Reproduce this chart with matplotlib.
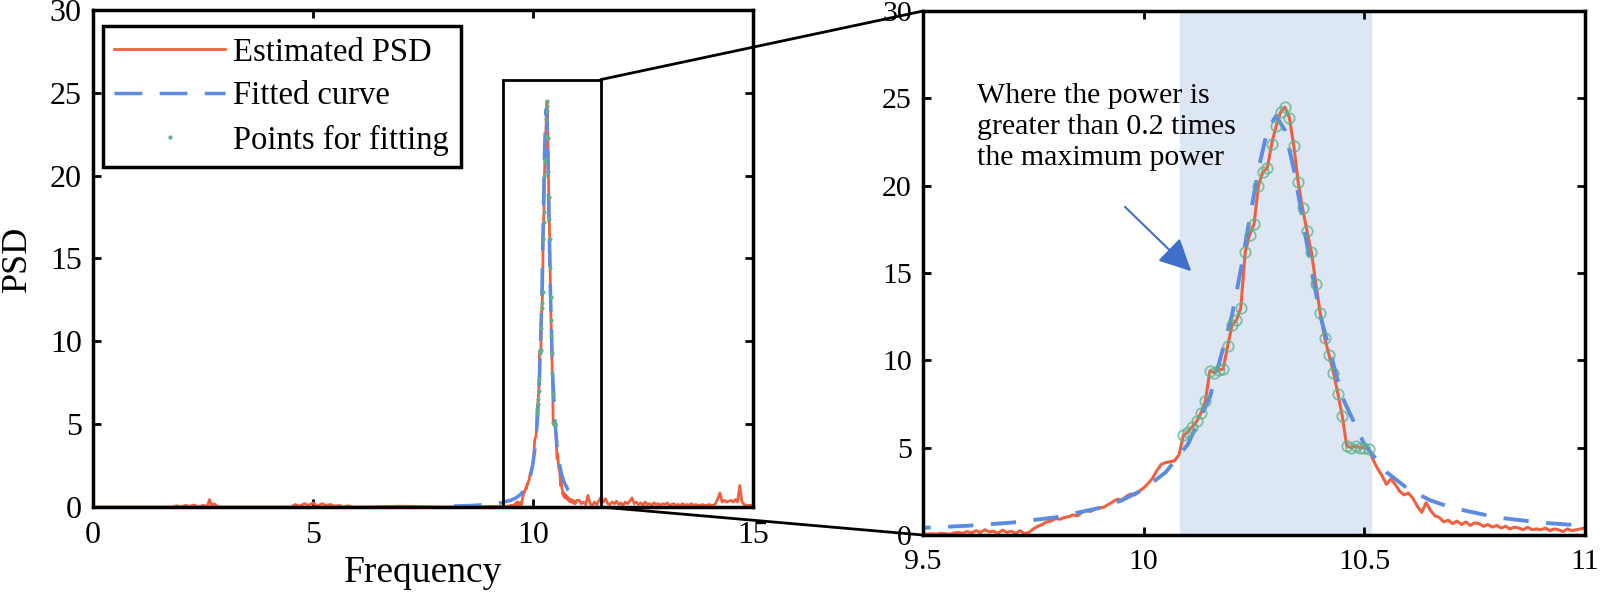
import numpy as np
import matplotlib
matplotlib.use("Agg")
import matplotlib.pyplot as plt
from matplotlib.patches import Rectangle, ConnectionPatch

plt.rcParams['font.family'] = ['Liberation Serif', 'DejaVu Serif']

# estimated PSD around the peak, 0.01 steps from 9.50 to 11.00
zoom_start = 9.5
zoom_step = 0.01
zoom_psd = [
    0.10, 0.05, 0.08, 0.05, 0.10, 0.08, 0.04, 0.12, 0.15, 0.10,   # 9.50
    0.20, 0.12, 0.25, 0.15, 0.30, 0.18, 0.22, 0.10, 0.28, 0.15,   # 9.60
    0.22, 0.10, 0.25, 0.08, 0.15, 0.35, 0.50, 0.60, 0.75, 0.80,   # 9.70
    0.95, 0.90, 1.00, 1.05, 1.15, 1.10, 1.30, 1.40, 1.35, 1.50,   # 9.80
    1.55, 1.60, 1.75, 1.90, 2.05, 2.00, 2.20, 2.35, 2.30, 2.50,   # 9.90
    2.70, 2.95, 3.25, 3.70, 4.05, 4.15, 4.20, 4.25, 4.60, 5.70,   # 10.00
    5.90, 6.20, 6.50, 7.00, 7.70, 9.40, 9.30, 9.45, 9.50, 10.80,  # 10.10
    12.00, 12.30, 13.00, 16.20, 17.20, 17.80, 20.00, 20.80, 21.00, 22.40,  # 10.20
    23.40, 24.20, 24.50, 23.90, 22.30, 20.20, 18.70, 17.40, 16.20, 14.40,  # 10.30
    12.70, 11.30, 10.30, 9.30, 8.10, 6.80, 5.10, 5.00, 5.10, 5.00,  # 10.40
    5.00, 4.95, 4.30, 3.80, 3.40, 2.90, 3.20, 2.90, 2.50, 2.30,   # 10.50
    2.40, 2.10, 1.65, 1.30, 1.85, 1.40, 1.10, 1.00, 0.75, 0.85,   # 10.60
    0.65, 0.80, 0.60, 0.75, 0.55, 0.70, 0.65, 0.50, 0.60, 0.45,   # 10.70
    0.55, 0.40, 0.50, 0.35, 0.45, 0.40, 0.30, 0.45, 0.30, 0.35,   # 10.80
    0.30, 0.40, 0.25, 0.35, 0.30, 0.20, 0.35, 0.25, 0.30, 0.35,   # 10.90
    0.40,                                                          # 11.00
]

# low-level PSD away from the peak
low_freq = [0.0, 1.8, 1.9, 2.0, 2.1, 2.2, 2.3, 2.4, 2.5, 2.6, 2.65, 2.7,
            2.75, 2.85, 3.0, 4.5, 4.6, 4.7, 4.8, 4.9, 5.0, 5.1, 5.2, 5.3,
            5.4, 5.5, 5.6, 5.7, 5.8, 5.9, 6.1, 7.0, 8.0, 9.0, 9.45]
low_psd = [0.0, 0.0, 0.08, 0.0, 0.1, 0.05, 0.12, 0.0, 0.1, 0.05, 0.45, 0.05,
           0.2, 0.0, 0.0, 0.0, 0.15, 0.05, 0.2, 0.1, 0.25, 0.05, 0.2, 0.1,
           0.15, 0.05, 0.1, 0.0, 0.08, 0.0, 0.0, 0.05, 0.0, 0.03, 0.05]

high_start = 11.05
high_step = 0.05
high_psd = [
    0.40, 0.20, 0.30, 0.15, 0.70, 0.20, 0.10, 0.30, 0.15, 0.40,
    0.60, 0.30, 0.50, 0.20, 0.15, 0.30, 0.20, 0.35, 0.15, 0.25,
    0.10, 0.30, 0.20, 0.35, 0.55, 0.20, 0.30, 0.15, 0.25, 0.10,
    0.30, 0.15, 0.20, 0.10, 0.25, 0.15, 0.20, 0.10, 0.20, 0.15,
    0.25, 0.10, 0.15, 0.20, 0.10, 0.15, 0.10, 0.20, 0.10, 0.15,
    0.10, 0.20, 0.10, 0.15, 0.10, 0.10, 0.15, 0.10, 0.10, 0.15,
    0.10, 0.10, 0.20, 0.50, 0.85, 0.30, 0.40, 0.30, 0.35, 0.40,
    0.30, 0.45, 0.30, 1.30, 0.30, 0.15, 0.10, 0.10, 0.10, 0.10,
]

# fitted curve
fit_freq = [8.2, 8.6, 9.0, 9.25, 9.5, 9.6, 9.7, 9.8, 9.9, 9.95, 10.0, 10.05,
            10.1, 10.15, 10.2, 10.22, 10.24, 10.26, 10.28, 10.3, 10.32, 10.34,
            10.36, 10.38, 10.4, 10.45, 10.5, 10.55, 10.6, 10.65, 10.7, 10.8,
            10.9, 11.0, 11.1]
fit_psd = [0.06, 0.09, 0.16, 0.24, 0.41, 0.53, 0.71, 1.01, 1.55, 1.98, 2.62, 3.60,
           5.19, 7.89, 12.58, 15.18, 18.09, 20.96, 23.16, 24.0, 23.16, 20.96,
           18.09, 15.18, 12.58, 7.89, 5.19, 3.60, 2.62, 1.98, 1.55, 1.01,
           0.71, 0.53, 0.41]

ratio = 0.2
band = [10.083, 10.515]
zoom_box = [9.31, 11.54, 25.8]

red = '#f1603e'
blue = '#5b8be2'
green = '#5fb08a'

zoom_freq = zoom_start + zoom_step * np.arange(len(zoom_psd))
high_freq = high_start + high_step * np.arange(len(high_psd))
zoom_psd = np.array(zoom_psd)
freq_all = np.concatenate([low_freq, zoom_freq, high_freq])
psd_all = np.concatenate([low_psd, zoom_psd, high_psd])
sel = zoom_psd >= ratio * zoom_psd.max()

fig = plt.figure(figsize=(16, 5.99), dpi=100)
ax1 = fig.add_axes([0.0581, 0.1536, 0.4125, 0.8297])
ax2 = fig.add_axes([0.5769, 0.1068, 0.41375, 0.8748])

ax1.plot(freq_all, psd_all, color=red, lw=2, label='Estimated PSD')
ax1.plot(fit_freq, fit_psd, color=blue, lw=2.5, dashes=(8, 5), label='Fitted curve')
ax1.plot(zoom_freq[sel], zoom_psd[sel], '.', color=green, ms=4, label='Points for fitting')
ax1.set_xlim(0, 15)
ax1.set_ylim(0, 30)
ax1.set_xticks([0, 5, 10, 15])
ax1.set_yticks([0, 5, 10, 15, 20, 25, 30])
ax1.set_xlabel('Frequency', fontsize=27, labelpad=4)
ax1.set_ylabel('PSD', fontsize=26)
ax1.yaxis.set_label_coords(-0.09, 0.5)
leg = ax1.legend(loc='upper left', bbox_to_anchor=(0.015, 0.968), fontsize=23.5,
                 fancybox=False, edgecolor='black', framealpha=1,
                 handlelength=3.4, handletextpad=0.25, labelspacing=0.4,
                 borderpad=0.35, borderaxespad=0)
leg.get_frame().set_linewidth(2.5)
ax1.add_patch(Rectangle((zoom_box[0], 0), zoom_box[1] - zoom_box[0], zoom_box[2],
                        fill=False, ec='black', lw=2, zorder=5))

ax2.axvspan(band[0], band[1], color='#dde6f3', zorder=0)
ax2.plot(zoom_freq, zoom_psd, color=red, lw=2.2)
ax2.plot(fit_freq, fit_psd, color=blue, lw=2.8, dashes=(6.5, 4.5))
ax2.plot(zoom_freq[sel], zoom_psd[sel], 'o', mfc='none', mec=green, mew=1.3,
         ms=7.5, alpha=0.75)
ax2.set_xlim(9.5, 11)
ax2.set_ylim(0, 30)
ax2.set_xticks([9.5, 10, 10.5, 11])
ax2.set_xticklabels(['9.5', '10', '10.5', '11'])
ax2.set_yticks([0, 5, 10, 15, 20, 25, 30])
ax2.text(9.622, 25.9, 'Where the power is\ngreater than 0.2 times\nthe maximum power',
         fontsize=21.5, va='top', ha='left', linespacing=1.25)
ax2.annotate('', xy=(10.112, 15.0), xytext=(9.953, 18.9),
             arrowprops=dict(arrowstyle='-|>,head_length=0.9,head_width=0.45',
                             mutation_scale=22, lw=1.5, color='#3f6fc8'))

for ax, fs in ((ax1, 23), (ax2, 21.5)):
    ax.tick_params(direction='in', top=True, right=True, length=6, width=2,
                   labelsize=fs)
    ax.tick_params(axis='x', pad=10)
    ax.tick_params(axis='y', pad=8)
    for s in ax.spines.values():
        s.set_linewidth(2.5)

for ya, yb in [(zoom_box[2], 30), (0, 0)]:
    con = ConnectionPatch(xyA=(zoom_box[1], ya), coordsA=ax1.transData,
                          xyB=(9.5, yb), coordsB=ax2.transData,
                          color='black', lw=2)
    fig.add_artist(con)

fig.savefig('out.png', dpi=100)
